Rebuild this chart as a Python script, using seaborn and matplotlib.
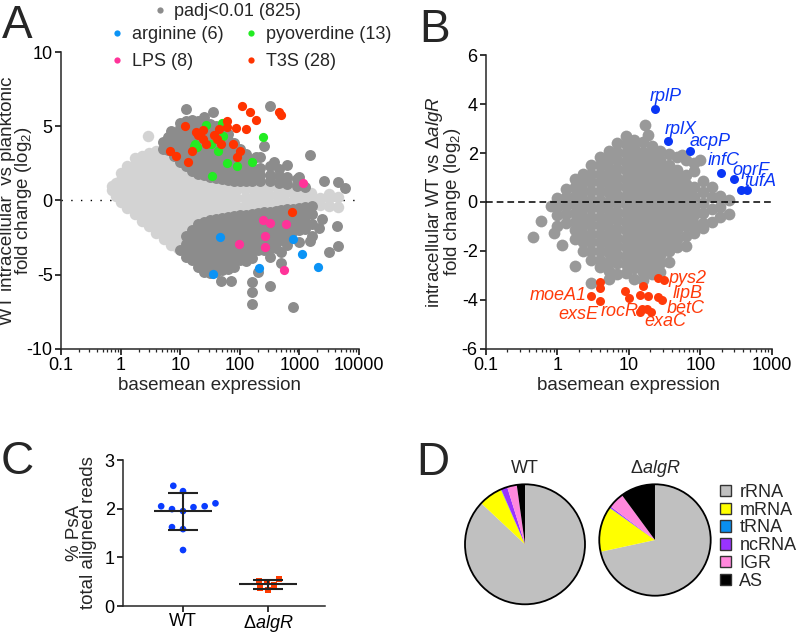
import numpy as np
import pandas as pd
import matplotlib
matplotlib.use("Agg")
import matplotlib.pyplot as plt
from matplotlib.lines import Line2D
from matplotlib.patches import Patch, Circle
from matplotlib.ticker import LogLocator, NullFormatter
import seaborn as sns

sns.set_style("ticks")
plt.rcParams["font.family"] = ["Liberation Sans", "DejaVu Sans"]
plt.rcParams["mathtext.fontset"] = "custom"
plt.rcParams["mathtext.rm"] = "Liberation Sans"
plt.rcParams["mathtext.it"] = "Liberation Sans:italic"
plt.rcParams["axes.unicode_minus"] = False

# ------------------ Panel A: MA plot, intracellular vs planktonic ------------------
# (basemean, [log2 fold changes]), column by column
a_ns = [
    (0.72, [0.7, 0.95]), (0.85, [0.3, 0.75, 1.15]),
    (1.0, [-0.1, 0.35, 0.85, 1.35, 1.85]),
    (1.3, [-0.5, 0.0, 0.5, 1.0, 1.5, 2.0, 2.35]),
    (1.75, [-0.9, -0.35, 0.2, 0.75, 1.3, 1.85, 2.4, 2.85]),
    (2.3, [-1.35, -0.8, -0.25, 0.3, 0.85, 1.4, 1.95, 2.5, 3.0]),
    (2.9, [4.35]),
    (3.0, [-1.75, -1.2, -0.65, -0.1, 0.45, 1.0, 1.55, 2.1, 2.65, 3.2]),
    (4.0, [-2.2, -1.65, -1.1, -0.55, 0.0, 0.55, 1.1, 1.65, 2.2, 2.75, 3.3]),
    (5.3, [-2.6, -2.05, -1.5, -0.95, -0.4, 0.15, 0.7, 1.25, 1.8, 2.35, 2.9, 3.3]),
    (7.0, [-3.0, -2.45, -1.9, -1.35, -0.8, -0.25, 0.3, 0.85, 1.4, 1.95, 2.5, 2.95]),
    (9.2, [-3.2, -2.65, -2.1, -1.55, -1.0, -0.45, 0.1, 0.65, 1.2, 1.75, 2.3]),
    (12, [-2.6, -2.05, -1.5, -0.95, -0.4, 0.15, 0.7, 1.25, 1.8, 2.2]),
    (16, [-2.2, -1.65, -1.1, -0.55, 0.0, 0.55, 1.1, 1.65, 1.9]),
    (21, [-1.85, -1.3, -0.75, -0.2, 0.35, 0.9, 1.45, 1.75]),
    (28, [-1.55, -1.0, -0.45, 0.1, 0.65, 1.2, 1.6]),
    (37, [-1.35, -0.8, -0.25, 0.3, 0.85, 1.4]),
    (50, [-1.2, -0.65, -0.1, 0.45, 1.0, 1.35]),
    (66, [-1.05, -0.5, 0.05, 0.6, 1.15]),
    (88, [-0.95, -0.4, 0.15, 0.7, 1.15]),
    (120, [-0.9, -0.35, 0.2, 0.75, 1.15]),
    (165, [-0.85, -0.3, 0.25, 0.8, 1.15]),
    (225, [-0.8, -0.25, 0.3, 0.85, 1.15]),
    (310, [-0.75, -0.2, 0.35, 0.9, 1.15]),
    (420, [-0.7, -0.15, 0.4, 0.95]),
    (580, [-0.6, -0.05, 0.5, 1.0]),
    (800, [-0.5, 0.0, 0.5, 0.9]),
    (1100, [-0.45, 0.05, 0.55]),
    (1550, [-0.35, 0.15, 0.5]),
    (2200, [-0.3, 0.2]),
    (3100, [-0.35, 0.15, 0.45]),
    (4400, [-0.45, 0.25]),
]

a_sig = [
    # up-regulated block
    (5.2, [3.5, 3.95]), (6.3, [3.4, 3.85, 4.3]), (7.1, [4.7]),
    (8.0, [3.0, 3.45, 3.9, 4.35]),
    (10, [2.6, 3.05, 3.5, 3.95, 4.4, 4.85, 5.2]),
    (12.3, [6.15]),
    (12.6, [2.3, 2.75, 3.2, 3.65, 4.1, 4.55, 5.0, 5.35]),
    (16, [2.0, 2.45, 2.9, 3.35, 3.8, 4.25, 4.7, 5.15, 5.45]),
    (20, [1.8, 2.25, 2.7, 3.15, 3.6, 4.05, 4.5, 4.95, 5.35]),
    (25, [1.7, 2.15, 2.6, 3.05, 3.5, 3.95, 4.4, 4.85, 5.3, 5.6]),
    (32, [1.6, 2.05, 2.5, 2.95, 3.4, 3.85, 4.3, 4.75, 5.15]),
    (35, [5.97]),
    (40, [1.5, 1.95, 2.4, 2.85, 3.3, 3.75, 4.2, 4.65, 5.0]),
    (50, [1.45, 1.9, 2.35, 2.8, 3.25, 3.7, 4.15, 4.55]),
    (63, [1.4, 1.85, 2.3, 2.75, 3.2, 3.65, 4.1, 4.45]),
    (80, [1.3, 1.75, 2.2, 2.65, 3.1, 3.55, 3.9]),
    (100, [1.3, 1.75, 2.2, 2.65, 3.1, 3.45]),
    (126, [1.3, 1.75, 2.2, 2.65, 3.1]),
    (160, [1.3, 1.75, 2.2, 2.7]),
    (185, [2.95]),
    (220, [1.3, 1.75, 2.2, 2.9]),
    (250, [3.7]),
    (316, [1.3, 1.75, 2.3, 6.37]),
    (370, [2.6]),
    (450, [1.2, 1.65, 2.1]),
    (630, [1.1, 1.55, 2.4]),
    (900, [1.0, 1.45]),
    (980, [1.6]),
    (1260, [0.9]),
    (1480, [3.07]),
    (2570, [1.33]),
    (4470, [1.26]),
    (5750, [0.85]),
    # down-regulated block
    (10, [-3.3]),
    (12.6, [-2.4, -2.9, -3.4, -3.8]),
    (16, [-2.0, -2.5, -3.0, -3.5, -4.0]),
    (20, [-1.6, -2.1, -2.6, -3.1, -3.6, -4.1, -4.45]),
    (25, [-1.45, -1.95, -2.45, -2.95, -3.45, -3.95, -4.45, -4.8]),
    (32, [-1.3, -1.8, -2.3, -2.8, -3.3, -3.8, -4.3, -4.9]),
    (40, [-1.25, -1.75, -2.25, -2.75, -3.25, -3.75, -4.25, -4.8]),
    (48, [-5.4]),
    (50, [-1.2, -1.7, -2.2, -2.7, -3.2, -3.7, -4.2, -4.7]),
    (63, [-1.1, -1.6, -2.1, -2.6, -3.1, -3.6, -4.1, -4.6]),
    (72, [-5.4]),
    (80, [-1.05, -1.55, -2.05, -2.55, -3.05, -3.55, -4.05, -4.45]),
    (100, [-1.0, -1.5, -2.0, -2.5, -3.0, -3.5, -4.0]),
    (126, [-0.95, -1.45, -1.95, -2.45, -2.95, -3.45, -3.9, -4.1]),
    (160, [-0.9, -1.4, -1.9, -2.4, -2.9, -3.4, -3.9]),
    (162, [-5.47, -6.15, -6.96]),
    (200, [-0.85, -1.35, -1.85, -2.35, -2.85, -3.3, -4.8]),
    (250, [-0.8, -1.3, -1.8, -2.3, -2.8, -3.3]),
    (316, [-0.75, -1.25, -1.75, -2.25, -2.75, -3.2, -3.8, -5.75]),
    (400, [-0.7, -1.2, -1.7, -2.2, -2.7, -3.2]),
    (490, [-0.65, -1.15, -1.65, -2.15, -2.65, -3.5, -4.2]),
    (630, [-0.6, -1.1, -1.6, -2.1, -2.6, -3.0]),
    (794, [-0.55, -1.05, -1.55, -2.05, -7.2]),
    (1000, [-0.5, -1.0, -1.5, -2.0, -2.8]),
    (1260, [-0.45, -0.9, -1.4, -1.9]),
    (1480, [-2.7]),
    (1600, [-0.4, -0.9, -1.6, -2.4]),
    (2140, [-1.85]),
    (2400, [-1.23]),
    (3160, [-3.45]),
    (4270, [-1.75]),
    (4470, [-3.05]),
]

a_arg_base = [46, 35, 780, 1085, 214, 2040]
a_arg_lfc = [-2.49, -4.95, -2.58, -3.61, -4.55, -4.51]
a_pvd_base = [27.5, 50.7, 52.5, 18, 19.3, 17, 33, 42.6, 61.8, 91, 158, 248, 34.4]
a_pvd_lfc = [5.09, 5.2, 4.35, 3.8, 3.57, 3.68, 3.8, 3.3, 2.52, 2.33, 2.62, 4.27, 1.66]
a_lps_base = [1150, 248, 316, 603, 263, 97, 263, 550]
a_lps_lfc = [1.17, -1.30, -1.52, -1.59, -2.42, -2.91, -3.10, -4.66]
a_t3s_base = [108, 148, 186, 447, 500, 11.9, 21.4, 19.7, 24.3, 36.7, 44.6, 61.8, 61.8,
              88, 128, 6.8, 8.6, 15.9, 27.5, 41.5, 48.7, 76, 100, 91, 13.5, 760, 24.5, 18.5]
a_t3s_lfc = [6.37, 5.99, 5.43, 5.99, 5.77, 5.03, 4.49, 4.4, 4.76, 4.42, 4.8, 5.32, 4.98,
             4.87, 4.8, 3.36, 3.0, 3.36, 3.8, 4.13, 3.81, 3.8, 3.36, 2.92, 2.56, -0.78, 4.15, 4.6]
a_groups = ["arginine (6)", "pyoverdine (13)", "LPS (8)", "T3S (28)"]

# ------------------ Panel B: MA plot, WT vs algR ------------------
b_all = [
    (0.45, [-1.43]), (0.59, [-0.79]), (0.81, [-0.18]), (0.89, [-1.25]),
    (1.0, [0.15, -0.2, -0.55, -1.0]), (1.17, [-1.74]),
    (1.32, [0.55, 0.2, -0.15, -0.5, -0.85]),
    (1.74, [0.95, 0.6, 0.25, -0.1, -0.45, -0.8, -1.15, -1.5, -2.63]),
    (2.29, [1.15, 0.8, 0.45, 0.1, -0.25, -0.6, -0.95, -1.3, -1.65, -2.0]),
    (3.0, [1.5, 1.15, 0.8, 0.45, 0.1, -0.25, -0.6, -0.95, -1.3, -1.65, -2.0, -2.35, -3.31]),
    (4.0, [1.85, 1.5, 1.15, 0.8, 0.45, 0.1, -0.25, -0.6, -0.95, -1.3, -1.65, -2.0, -2.35, -2.65]),
    (5.25, [2.1, 1.75, 1.4, 1.05, 0.7, 0.35, 0.0, -0.35, -0.7, -1.05, -1.4, -1.75, -2.1,
            -2.45, -2.8, -3.15]),
    (6.9, [2.4, 2.05, 1.7, 1.35, 1.0, 0.65, 0.3, -0.05, -0.4, -0.75, -1.1, -1.45, -1.8,
           -2.15, -2.5, -2.95]),
    (9.1, [2.7, 2.35, 2.0, 1.65, 1.3, 0.95, 0.6, 0.25, -0.1, -0.45, -0.8, -1.15, -1.5,
           -1.85, -2.2, -2.55, -2.9]),
    (12, [2.55, 2.2, 1.85, 1.5, 1.15, 0.8, 0.45, 0.1, -0.25, -0.6, -0.95, -1.3, -1.65,
          -2.0, -2.35, -2.7, -3.15]),
    (15.8, [2.45, 2.05, 1.7, 1.35, 1.0, 0.65, 0.3, -0.05, -0.4, -0.75, -1.1, -1.45, -1.8,
            -2.15, -2.5, -2.85, -3.2]),
    (17, [3.16]), (18.6, [2.74]),
    (21, [2.3, 1.9, 1.55, 1.2, 0.85, 0.5, 0.15, -0.2, -0.55, -0.9, -1.25, -1.6, -1.95,
          -2.3, -2.65, -2.95]),
    (27.5, [2.1, 1.7, 1.35, 1.0, 0.65, 0.3, -0.05, -0.4, -0.75, -1.1, -1.45, -1.8, -2.15,
            -2.5, -2.85]),
    (36, [1.95, 1.5, 1.15, 0.8, 0.45, 0.1, -0.25, -0.6, -0.95, -1.3, -1.65, -2.0, -2.45]),
    (48, [1.85, 1.3, 0.95, 0.6, 0.25, -0.1, -0.45, -0.8, -1.15, -1.5, -1.85]),
    (55, [1.93]),
    (63, [1.7, 1.1, 0.75, 0.4, 0.05, -0.3, -0.65, -1.0, -1.4, -1.8]),
    (83, [1.6, 1.25, 0.6, 0.2, -0.2, -0.55, -0.9, -1.25]),
    (100, [1.73]),
    (110, [0.85, 0.4, -0.05, -0.45, -0.85, -1.05]),
    (145, [0.6, 0.2, -0.3, -0.8]),
    (190, [0.25, -0.2, -0.6]),
    (250, [0.1, -0.5]),
]
b_up_genes = ["rplP", "rplX", "acpP", "infC", "oprF", "tufA"]
b_up_base = [23.5, 35.3, 72, 194, 297, 370, 447]
b_up_lfc = [3.81, 2.51, 2.07, 1.18, 0.94, 0.50, 0.47]
b_down_base = [2.92, 4.0, 4.0, 4.0, 8.8, 10, 15.8, 14.2, 18.4, 14.5, 15.3, 18, 20.4,
               25.3, 29, 25.3, 30.9]
b_down_lfc = [-3.82, -3.28, -3.51, -4.03, -3.65, -3.92, -3.44, -3.78, -3.85, -4.5, -4.37,
              -4.37, -4.5, -3.88, -3.99, -3.1, -3.17]
b_down_genes = ["moeA1", "exsE", "rocR", "exaC", "betC", "lipB", "pys2"]
# label anchors (data coords)
b_up_label_xy = [(32.4, 4.3), (52.5, 2.95), (138, 2.46), (215, 1.69), (513, 1.28), (690, 0.83)]
b_down_label_xy = [(2.6, -3.82), (1.98, -4.6), (7.5, -4.48), (33, -4.89), (63.6, -4.36),
                   (66, -3.74), (66, -3.13)]

# ------------------ Panel C: % PsA reads ------------------
c_groups = ["WT", "algR"]
c_wt = [2.47, 2.36, 1.99, 2.05, 2.03, 2.05, 2.11, 1.95, 1.58, 1.62, 1.15]
c_algr = [0.33, 0.49, 0.55, 0.43, 0.52, 0.36]

# ------------------ Panel D: read composition ------------------
rna_types = ["rRNA", "mRNA", "tRNA", "ncRNA", "IGR", "AS"]
wt_frac = [87.0, 6.4, 0.1, 1.7, 2.6, 2.2]
algr_frac = [71.6, 13.2, 0.1, 0.4, 4.6, 10.1]

LIGHT, DARK = "#d3d3d3", "#8c8c8c"
A_COLORS = ["#0b93f5", "#22ec22", "#ff3399", "#ff3300"]
B_GRAY, B_BLUE, B_RED = "#999999", "#0a36f5", "#ff3a0a"
C_BLUE, C_RED = "#0a3cff", "#ff3c00"
PIE_COLORS = ["#c0c0c0", "#ffff00", "#0a8ff0", "#9933ff", "#ff88dd", "#000000"]
FS = 13


def expand(cols):
    return pd.DataFrame([(b, v) for b, vals in cols for v in vals], columns=["basemean", "lfc"])


def style(ax):
    sns.despine(ax=ax)
    for s in ("left", "bottom"):
        ax.spines[s].set_linewidth(1.1)
    ax.tick_params(which="major", length=4, width=1.1, labelsize=FS, pad=2, colors="black")
    ax.tick_params(which="minor", length=2.2, width=0.9)


fig = plt.figure(figsize=(8, 6.33), dpi=100)

# ---- A ----
axA = fig.add_axes([0.07625, 0.44866, 0.3725, 0.46919])
axA.set_xscale("log")
sns.scatterplot(data=expand(a_ns), x="basemean", y="lfc", color=LIGHT, s=68,
                linewidth=0, ax=axA, legend=False)
sns.scatterplot(data=expand(a_sig), x="basemean", y="lfc", color=DARK, s=62,
                linewidth=0, ax=axA, legend=False)
for bases, lfcs, col in zip([a_arg_base, a_pvd_base, a_lps_base, a_t3s_base],
                            [a_arg_lfc, a_pvd_lfc, a_lps_lfc, a_t3s_lfc], A_COLORS):
    sns.scatterplot(x=bases, y=lfcs, color=col, s=44, linewidth=0, ax=axA, legend=False, zorder=4)
axA.axhline(0, color="black", lw=1, ls=(0, (1, 6)), zorder=0.5)
axA.set_xlim(0.1, 10000)
axA.set_ylim(-10, 10)
axA.set_xticks([0.1, 1, 10, 100, 1000, 10000])
axA.set_xticklabels(["0.1", "1", "10", "100", "1000", "10000"])
axA.xaxis.set_minor_locator(LogLocator(base=10, subs=np.arange(2, 10)))
axA.xaxis.set_minor_formatter(NullFormatter())
axA.set_yticks([-10, -5, 0, 5, 10])
style(axA)
axA.set_xlabel("basemean expression", fontsize=13.5, labelpad=2)
axA.set_ylabel("WT intracellular  vs planktonic\nfold change (log$_2$)", fontsize=13.5,
               linespacing=0.78)
axA.yaxis.set_label_coords(-0.092, 0.5)

h_sig = Line2D([], [], ls="", marker="o", ms=4.5, mfc=DARK, mec="none")
fig.legend([h_sig], ["padj<0.01 (825)"], loc="upper left", bbox_to_anchor=(0.191, 0.995),
           frameon=False, fontsize=FS, handlelength=0.8, handletextpad=0.4,
           borderpad=0, borderaxespad=0)
grp_handles = [Line2D([], [], ls="", marker="o", ms=4.5, mfc=c, mec="none") for c in A_COLORS]
order = [0, 2, 1, 3]
fig.legend([grp_handles[i] for i in order], [a_groups[i] for i in order], ncol=2,
           loc="upper left", bbox_to_anchor=(0.1373, 0.959), frameon=False, fontsize=FS,
           handlelength=0.8, handletextpad=0.43, columnspacing=1.1, labelspacing=0.55,
           borderpad=0, borderaxespad=0)

# ---- B ----
axB = fig.add_axes([0.6075, 0.44866, 0.3571, 0.46445])
axB.set_xscale("log")
sns.scatterplot(data=expand(b_all), x="basemean", y="lfc", color=B_GRAY, s=72,
                linewidth=0, ax=axB, legend=False)
sns.scatterplot(x=b_up_base, y=b_up_lfc, color=B_BLUE, s=42, linewidth=0, ax=axB,
                legend=False, zorder=4)
sns.scatterplot(x=b_down_base, y=b_down_lfc, color=B_RED, s=42, linewidth=0, ax=axB,
                legend=False, zorder=4)
axB.axhline(0, color="black", lw=1.1, ls=(0, (4.4, 2.6)), zorder=3)
for name, (x, y) in zip(b_up_genes, b_up_label_xy):
    axB.text(x, y, name, color=B_BLUE, fontsize=FS, style="italic", ha="center", va="center")
for name, (x, y) in zip(b_down_genes, b_down_label_xy):
    axB.text(x, y, name, color=B_RED, fontsize=FS, style="italic",
             ha="right" if name == "moeA1" else "center", va="center")
axB.set_xlim(0.1, 1000)
axB.set_ylim(-6, 6)
axB.set_xticks([0.1, 1, 10, 100, 1000])
axB.set_xticklabels(["0.1", "1", "10", "100", "1000"])
axB.xaxis.set_minor_locator(LogLocator(base=10, subs=np.arange(2, 10)))
axB.xaxis.set_minor_formatter(NullFormatter())
axB.set_yticks([-6, -4, -2, 0, 2, 4, 6])
style(axB)
axB.set_xlabel("basemean expression", fontsize=13.5, labelpad=2)
axB.set_ylabel("intracellular WT vs Δ$\\mathit{algR}$\nfold change (log$_2$)", fontsize=13.5,
               linespacing=0.78)
axB.yaxis.set_label_coords(-0.08, 0.5)

# ---- C ----
axC = fig.add_axes([0.15375, 0.04265, 0.2525, 0.23065])
df_c = pd.DataFrame({"strain": ["WT"] * len(c_wt) + ["algR"] * len(c_algr),
                     "pct": c_wt + c_algr})
sns.swarmplot(data=df_c[df_c.strain == "WT"], x="strain", y="pct", order=c_groups,
              color=C_BLUE, size=4.8, linewidth=2.9, edgecolor="none", ax=axC)
sns.swarmplot(data=df_c[df_c.strain == "algR"], x="strain", y="pct", order=c_groups,
              color=C_RED, marker="s", size=4.3, linewidth=1.2, edgecolor="none", ax=axC)
stats = df_c.groupby("strain")["pct"].agg(["mean", "std"])
for i, g in enumerate(c_groups):
    m, sd = stats.loc[g, "mean"], stats.loc[g, "std"]
    axC.hlines(m, i - 0.34, i + 0.34, color="#222222", lw=1.5, zorder=5)
    axC.hlines([m - sd, m + sd], i - 0.176, i + 0.176, color="#222222", lw=1.5, zorder=5)
    axC.vlines(i, m - sd, m + sd, color="#222222", lw=1.5, zorder=5)
axC.set_xlim(-0.706, 1.67)
axC.set_ylim(0, 3)
axC.set_yticks([0, 1, 2, 3])
axC.set_xticks([0, 1])
axC.set_xticklabels(["WT", "Δ$\\mathit{algR}$"])
style(axC)
axC.tick_params(axis="x", pad=1)
axC.set_xlabel("")
axC.set_ylabel("% PsA\ntotal aligned reads", fontsize=13.5, linespacing=0.78)
axC.yaxis.set_label_coords(-0.129, 0.5)

# ---- D ----
pie_axes = [fig.add_axes([0.5775, 0.0406, 0.1575, 0.19905]),
            fig.add_axes([0.7456, 0.0545, 0.14625, 0.18483])]
for ax, frac in zip(pie_axes, [wt_frac, algr_frac]):
    ax.pie(frac, colors=PIE_COLORS, startangle=90, counterclock=False,
           wedgeprops=dict(linewidth=0))
    ax.add_patch(Circle((0, 0), 1, fill=False, lw=1.3, ec="black"))
    ax.set_xlim(-1.05, 1.05)
    ax.set_ylim(-1.05, 1.05)
    ax.set_aspect("equal")
fig.text(525 / 800, 1 - 473 / 633, "WT", ha="center", va="baseline", fontsize=FS)
fig.text(655 / 800, 1 - 473 / 633, "Δ$\\mathit{algR}$", ha="center", va="baseline", fontsize=FS)
pie_handles = [Patch(facecolor=c, edgecolor="#333333", lw=1) for c in PIE_COLORS]
fig.legend(pie_handles, rna_types, loc="upper left", bbox_to_anchor=(0.9, 1 - 484 / 633),
           frameon=False, fontsize=FS, handlelength=0.6, handleheight=0.6, handletextpad=0.47,
           labelspacing=0.04, borderpad=0, borderaxespad=0)

# ---- panel letters ----
for letter, x, y in [("A", 2, 38), ("B", 419, 42), ("C", 1, 474), ("D", 416, 475)]:
    fig.text(x / 800, 1 - y / 633, letter, fontsize=33, va="baseline", ha="left")

fig.savefig("out.png", dpi=100)
